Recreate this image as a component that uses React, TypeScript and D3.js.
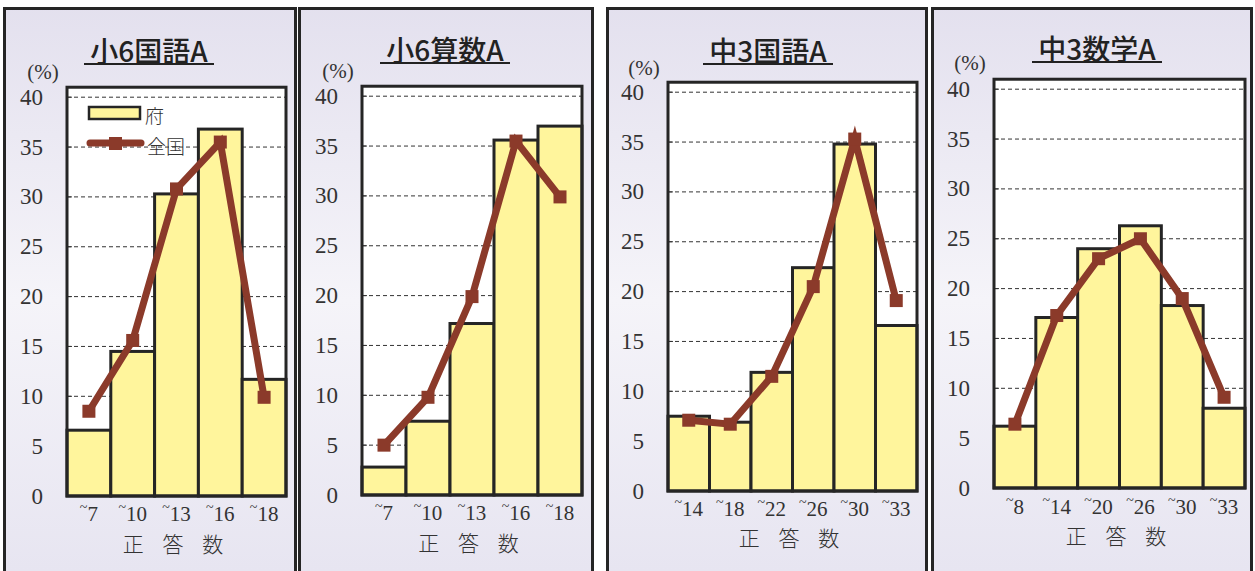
import React from "react";
import * as d3 from "d3";

// ---------- data ----------
const titles = ["小6国語A", "小6算数A", "中3国語A", "中3数学A"];
const cats1 = ["7", "10", "13", "16", "18"];
const cats2 = ["7", "10", "13", "16", "18"];
const cats3 = ["14", "18", "22", "26", "30", "33"];
const cats4 = ["8", "14", "20", "26", "30", "33"];
const pref1 = [6.6, 14.5, 30.3, 36.8, 11.7];
const nat1 = [8.5, 15.6, 30.8, 35.5, 9.9];
const pref2 = [2.8, 7.4, 17.2, 35.6, 37.0];
const nat2 = [5.0, 9.8, 19.9, 35.5, 29.9];
const pref3 = [7.5, 6.9, 11.9, 22.4, 34.8, 16.6];
const nat3 = [7.1, 6.7, 11.5, 20.5, 35.3, 19.1];
const pref4 = [6.2, 17.1, 24.0, 26.3, 18.3, 8.0];
const nat4 = [6.4, 17.3, 23.0, 25.0, 19.0, 9.1];
const yTicks = [0, 5, 10, 15, 20, 25, 30, 35, 40];
const legendLabels = ["府", "全国"];
const xAxisTitle = "正 答 数";
const unitLabel = "(%)";

const cats = [cats1, cats2, cats3, cats4];
const prefs = [pref1, pref2, pref3, pref4];
const nats = [nat1, nat2, nat3, nat4];

// ---------- layout ----------
const boxes = [
  { x0: 4.5, x1: 295.5 },
  { x0: 299.5, x1: 592.5 },
  { x0: 607.5, x1: 926.5 },
  { x0: 932.5, x1: 1251.5 },
];
const plots = [
  { left: 67, right: 286, bottom: 496 },
  { left: 362, right: 582, bottom: 495 },
  { left: 668, right: 917, bottom: 491 },
  { left: 994, right: 1245, bottom: 488 },
];
const titleY = [50, 49, 50, 48];
const titleX = [149, 445, 768, 1097];
const unitY = [72, 71, 68, 63];
const xLabY = [521, 520, 516, 514];
const xTitleY = [552, 551, 546, 544];

const BAR_FILL = "#fff59c";
const DARK = "#252525";
const LINE = "#8b3a2a";
const PX_PER_UNIT = 9.97;

function Panel({ i }: { i: number }) {
  const p = plots[i];
  const b = boxes[i];
  const c = cats[i];
  const top = p.bottom - 41 * PX_PER_UNIT;
  const x = d3.scaleBand<string>().domain(c).range([p.left, p.right]).padding(0);
  const y = d3.scaleLinear().domain([0, 41]).range([p.bottom, top]);
  const line = d3
    .line<number>()
    .x((_, j) => (x(c[j]) as number) + x.bandwidth() / 2)
    .y((v) => y(v));
  const serif = "'Liberation Serif', 'DejaVu Serif', serif";
  const cjk = "'Noto Sans CJK JP', 'Noto Sans', sans-serif";
  const midX = (p.left + p.right) / 2;
  return (
    <g>
      <rect x={b.x0} y={8.5} width={b.x1 - b.x0} height={600} fill="url(#bg)" stroke={DARK} strokeWidth={3} />
      {/* title */}
      <text x={titleX[i]} y={titleY[i]} textAnchor="middle" dominantBaseline="central"
        fontFamily={cjk} fontWeight={500} fontSize={28} fill="#222">{titles[i]}</text>
      <line x1={titleX[i] - 65} x2={titleX[i] + 65} y1={titleY[i] + 14} y2={titleY[i] + 14} stroke="#222" strokeWidth={2} />
      {/* unit */}
      <text x={p.left - 24} y={unitY[i]} textAnchor="middle" dominantBaseline="central"
        fontFamily={serif} fontSize={21} fill="#333">{unitLabel}</text>
      {/* plot bg */}
      <rect x={p.left} y={top} width={p.right - p.left} height={p.bottom - top} fill="#fff" />
      {/* grid */}
      {yTicks.filter((t) => t > 0).map((t) => (
        <line key={t} x1={p.left} x2={p.right} y1={y(t)} y2={y(t)} stroke="#333" strokeWidth={1} strokeDasharray="4,3" />
      ))}
      {yTicks.map((t) => (
        <line key={"tk" + t} x1={p.left} x2={p.left + 5} y1={y(t)} y2={y(t)} stroke="#333" strokeWidth={1} />
      ))}
      {/* bars */}
      {prefs[i].map((v, j) => (
        <rect key={j} x={x(c[j])} y={y(v)} width={x.bandwidth()} height={p.bottom - y(v)}
          fill={BAR_FILL} stroke={DARK} strokeWidth={3} />
      ))}
      {/* frame */}
      <rect x={p.left} y={top} width={p.right - p.left} height={p.bottom - top} fill="none" stroke={DARK} strokeWidth={3} />
      {/* y labels */}
      {yTicks.map((t) => (
        <text key={"yl" + t} x={p.left - 24} y={y(t)} textAnchor="end" dominantBaseline="central"
          fontFamily={serif} fontSize={23} fill="#333">{t}</text>
      ))}
      {/* national line */}
      <path d={line(nats[i]) || ""} fill="none" stroke={LINE} strokeWidth={7} strokeLinejoin="miter" />
      {nats[i].map((v, j) => (
        <rect key={"m" + j} x={(x(c[j]) as number) + x.bandwidth() / 2 - 6.5} y={y(v) - 6.5} width={13} height={13} fill={LINE} />
      ))}
      {/* x labels */}
      {c.map((lab, j) => (
        <text key={"xl" + j} x={(x(lab) as number) + x.bandwidth() / 2} y={xLabY[i]} textAnchor="middle"
          fontFamily={serif} fontSize={21} fill="#333">
          <tspan fontSize={14} dy={-9}>~</tspan>
          <tspan dy={9}>{lab}</tspan>
        </text>
      ))}
      <text x={midX} y={xTitleY[i]} textAnchor="middle" fontFamily={cjk} fontWeight={300}
        fontSize={21} fill="#333" style={{ whiteSpace: "pre" }} letterSpacing={7}>{xAxisTitle}</text>
      {/* legend */}
      {i === 0 && (
        <g>
          <rect x={89} y={107} width={51} height={12} fill={BAR_FILL} stroke={DARK} strokeWidth={2.5} />
          <text x={145} y={114} dominantBaseline="central" fontFamily={cjk} fontWeight={300} fontSize={19} fill="#333">{legendLabels[0]}</text>
          <line x1={90} x2={141} y1={143} y2={143} stroke={LINE} strokeWidth={7} strokeLinecap="round" />
          <rect x={109} y={137} width={13} height={13} fill={LINE} />
          <text x={147} y={145} dominantBaseline="central" fontFamily={cjk} fontWeight={300} fontSize={19} fill="#333">{legendLabels[1]}</text>
        </g>
      )}
    </g>
  );
}

export default function App() {
  return (
    <svg width={1255} height={571} style={{ position: "absolute", left: 0, top: 0, background: "#fff" }}>
      <defs>
        <linearGradient id="bg" x1="0" y1="0" x2="0" y2="1" gradientUnits="userSpaceOnUse"
          gradientTransform="scale(1,600)">
          <stop offset="0" stopColor="#e3e0ee" />
          <stop offset="0.5" stopColor="#f5f4f9" />
          <stop offset="0.95" stopColor="#e7e5f1" />
        </linearGradient>
      </defs>
      {titles.map((_, i) => (
        <Panel key={i} i={i} />
      ))}
    </svg>
  );
}
